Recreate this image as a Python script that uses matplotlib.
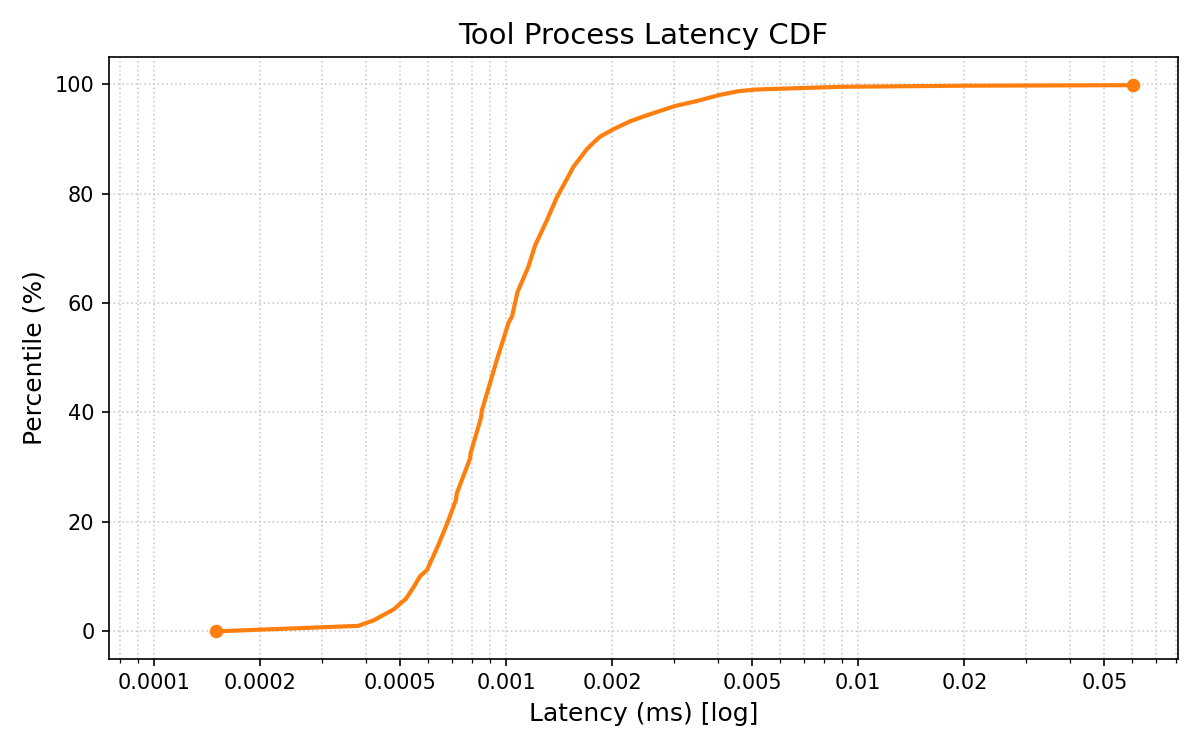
import matplotlib
matplotlib.use('Agg')
import matplotlib.pyplot as plt
import matplotlib.ticker as mticker

latency_ms = [1.50e-4, 3.80e-4, 4.20e-4, 4.79e-4, 5.20e-4, 5.35e-4, 5.45e-4,
              5.70e-4, 5.96e-4, 6.43e-4, 6.78e-4, 7.20e-4, 7.24e-4, 7.90e-4, 7.93e-4,
              8.49e-4, 8.52e-4, 9.41e-4, 1.016e-3, 1.04e-3, 1.077e-3, 1.156e-3, 1.208e-3,
              1.305e-3, 1.393e-3, 1.486e-3, 1.553e-3, 1.695e-3, 1.77e-3, 1.849e-3, 2.01e-3,
              2.25e-3, 2.51e-3, 3.02e-3, 3.48e-3, 4.03e-3, 4.57e-3, 5.1e-3, 8.9e-3, 0.02,
              0.0603]
percentile = [0, 1.0, 2.0, 4.0, 6.0, 7.2, 8.0,
              10.1, 11.2, 15.9, 19.5, 24.0, 25.2, 31.6, 32.6,
              39.1, 40.2, 49.6, 56.4, 57.6, 62.0, 66.6, 70.5,
              75.1, 79.3, 82.6, 84.9, 88.1, 89.3, 90.4, 91.7,
              93.2, 94.3, 96.0, 96.9, 98.0, 98.7, 99.0, 99.5, 99.7,
              99.8]

fig, ax = plt.subplots(figsize=(8, 5), dpi=150)
fig.subplots_adjust(left=0.0908, right=0.9814, bottom=0.1217, top=0.9244)

ax.plot(latency_ms, percentile, color='#ff7f0e', lw=2)
ax.plot([latency_ms[0], latency_ms[-1]], [percentile[0], percentile[-1]],
        'o', color='#ff7f0e', ms=5.5)

ax.set_xscale('log')
ax.set_xlim(7.45e-5, 0.0807)
ax.set_ylim(-5, 105)
ax.xaxis.set_major_locator(mticker.LogLocator(base=10, subs=(1, 2, 5)))
ax.xaxis.set_minor_locator(mticker.LogLocator(base=10, subs=(3, 4, 6, 7, 8, 9)))
ax.xaxis.set_major_formatter(mticker.FuncFormatter(lambda v, p: '{:g}'.format(v)))
ax.xaxis.set_minor_formatter(mticker.NullFormatter())
ax.set_yticks([0, 20, 40, 60, 80, 100])

ax.grid(True, which='both', linestyle=':', color='0.8', linewidth=0.8)

ax.set_title('Tool Process Latency CDF', fontsize=14)
ax.set_xlabel('Latency (ms) [log]', fontsize=12)
ax.set_ylabel('Percentile (%)', fontsize=12)

plt.savefig('out.png')
